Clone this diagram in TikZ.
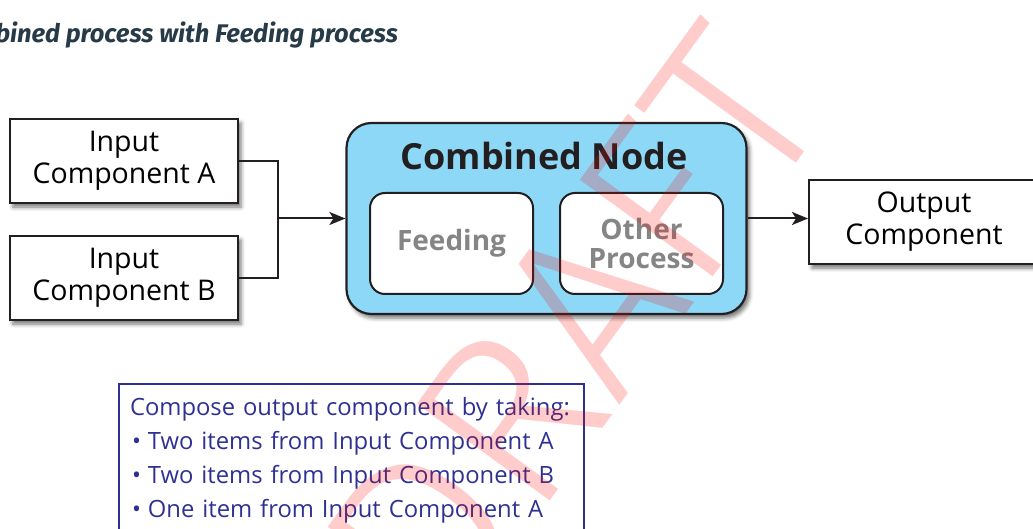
\documentclass[tikz,border=0pt]{standalone}
\usepackage{fontspec}
\setmainfont{Open Sans}
\newfontfamily\titlefont{Fira Sans}
\newfontfamily\wmfont{Fira Sans Light}
\usetikzlibrary{arrows.meta,shadows.blur}
\definecolor{nodeblue}{HTML}{8DD8F6}
\definecolor{notenavy}{HTML}{2E3192}
\definecolor{titleslate}{HTML}{263B47}
\definecolor{procgray}{HTML}{858585}
\definecolor{framedark}{HTML}{231F20}
\begin{document}
\begin{tikzpicture}[x=1pt,y=-1pt,
  shad/.style={blur shadow={shadow xshift=3pt,shadow yshift=-4pt,shadow blur radius=4pt,shadow opacity=55}},
  compbox/.style={draw=framedark,line width=2pt,fill=white,shad,minimum height=84pt,
    align=center,font=\fontsize{28.5}{32}\selectfont,inner sep=0pt},
  combo/.style={draw=framedark,line width=2.2pt,fill=nodeblue,rounded corners=25pt,shad,
    minimum width=400pt,minimum height=191pt,inner sep=0pt},
  procbox/.style={draw=framedark,line width=2pt,fill=white,rounded corners=15pt,
    minimum width=163pt,minimum height=101pt,align=center,text=procgray,
    font=\bfseries\fontsize{28}{29.5}\selectfont,inner sep=0pt},
  conn/.style={draw=framedark,line width=2pt},
  arr/.style={conn,-{Stealth[length=16pt,width=13pt,inset=4pt]}}
]
\useasboundingbox (0,0) rectangle (1033,529);
\clip (0,0) rectangle (1033,529);

\node[anchor=base east,inner sep=0pt,text=titleslate,
  font=\titlefont\bfseries\itshape\fontsize{25.5}{27}\selectfont] (title) at (398,43)
  {Combined process with Feeding process};

\node[compbox,minimum width=228pt] (inA) at (124,161) {Input\\Component A};
\node[compbox,minimum width=228pt] (inB) at (124,278) {Input\\Component B};

\node[combo] (comb) at (546.5,218.5) {};
\node[anchor=base,inner sep=0pt,text=framedark,font=\bfseries\fontsize{36}{40}\selectfont]
  (combtitle) at (544,170) {Combined Node};
\node[procbox] (feed) at (451.5,243.5) {Feeding};
\node[procbox] (other) at (641.5,243.5) {Other\\Process};

\node[compbox,minimum width=230pt] (out) at (924,222) {Output\\Component};

\coordinate (j) at (278,218.5);
\draw[conn] (inA.east) -| (j);
\draw[conn] (inB.east) -| (j);
\draw[arr] (j) -- (comb.west);
\draw[arr] (comb.east) -- (comb.east -| out.west);

\node[draw=notenavy,line width=2pt,anchor=north west,text=notenavy,
  text width=443pt,inner xsep=11pt,inner ysep=13pt,align=left,
  font=\fontsize{23.8}{34}\selectfont] (note) at (118,383)
  {Compose output component by taking:\\
   \hspace*{2pt}\textbullet\hspace{7pt}Two items from Input Component A\\
   \hspace*{2pt}\textbullet\hspace{7pt}Two items from Input Component B\\
   \hspace*{2pt}\textbullet\hspace{7pt}One item from Input Component A};

\node[rotate=54,anchor=base east,inner sep=0pt,text=red,text opacity=0.2,
  font=\wmfont\fontsize{240}{240}\selectfont] (wm) at (835,109) {DRAFT};
\end{tikzpicture}
\end{document}
